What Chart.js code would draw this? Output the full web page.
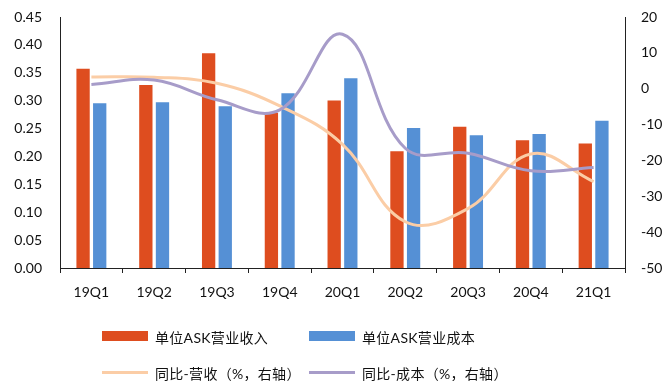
<!DOCTYPE html>
<html>
<head>
<meta charset="utf-8">
<script src="https://cdn.jsdelivr.net/npm/chart.js@4/dist/chart.umd.min.js"></script>
<style>
  body { margin: 0; background: #fff; }
  #wrap { position: relative; width: 665px; height: 381px; }
  .lg { position: absolute; font: 14px Lato, "Noto Sans CJK SC", sans-serif; color: #111; white-space: nowrap; }
  .lg span.sw { position: absolute; left: 0; }
  .lg span.tx { position: absolute; top: -9px; letter-spacing: 0.3px; }
</style>
</head>
<body>
<div id="wrap">
  <canvas id="ask-chart" width="665" height="381"></canvas>
  <div id="legend"></div>
</div>
<script>
/*ASK 单位营收 / 成本*/
const quarters = ['19Q1', '19Q2', '19Q3', '19Q4', '20Q1', '20Q2', '20Q3', '20Q4', '21Q1'];
const revPerAsk = [0.359, 0.330, 0.387, 0.280, 0.302, 0.211, 0.255, 0.231, 0.225];
const costPerAsk = [0.297, 0.299, 0.292, 0.315, 0.342, 0.253, 0.240, 0.242, 0.266];
const revYoy = [3.3, 3.2, 1.5, -4.8, -15.5, -37.1, -33.4, -18.2, -25.9];
const costYoy = [1.2, 2.4, -3.1, -5.9, 15.2, -16.6, -18.0, -22.9, -22.0];
const leftTicks = [0, 0.05, 0.10, 0.15, 0.20, 0.25, 0.30, 0.35, 0.40, 0.45];
const rightTicks = [-50, -40, -30, -20, -10, 0, 10, 20];

const tickFont = { family: 'Lato', size: 14 };

const ctx_ask = document.getElementById('ask-chart').getContext('2d');
const askChart = new Chart(ctx_ask, {
    type: 'bar',
    data: {
        labels: quarters,
        datasets: [{
            type: 'line',
            label: '同比-成本（%，右轴）',
            data: costYoy,
            yAxisID: 'y1',
            borderColor: '#A79CC9',
            borderWidth: 3,
            pointRadius: 0,
            tension: 0.4,
            order: 0
        }, {
            type: 'line',
            label: '同比-营收（%，右轴）',
            data: revYoy,
            yAxisID: 'y1',
            borderColor: '#FBCDA6',
            borderWidth: 3,
            pointRadius: 0,
            tension: 0.4,
            order: 1
        }, {
            label: '单位ASK营业收入',
            data: revPerAsk,
            backgroundColor: '#DE4D1F',
            borderColor: '#fff',
            borderWidth: 1,
            categoryPercentage: 0.53,
            barPercentage: 0.92,
            order: 2
        }, {
            label: '单位ASK营业成本',
            data: costPerAsk,
            backgroundColor: '#5590D5',
            borderColor: '#fff',
            borderWidth: 1,
            categoryPercentage: 0.53,
            barPercentage: 0.92,
            order: 2
        }]
    },
    options: {
        responsive: false,
        animation: false,
        layout: { padding: { top: 17, bottom: 0, left: 0, right: 0 } },
        plugins: { legend: { display: false }, tooltip: { enabled: false } },
        scales: {
            x: {
                border: { color: '#222', width: 1 },
                grid: { drawOnChartArea: false, tickLength: 5, color: '#222' },
                ticks: { color: '#111', font: tickFont, padding: 11, maxRotation: 0 },
                afterFit: function(scale) { scale.height = 113; scale.paddingLeft = 0; scale.paddingRight = 0; }
            },
            y: {
                position: 'left',
                min: 0,
                max: 0.45,
                afterBuildTicks: function(scale) { scale.ticks = leftTicks.map(v => ({ value: v })); },
                border: { color: '#222', width: 1 },
                grid: { display: false, drawTicks: false },
                ticks: { color: '#111', font: tickFont, padding: 18, callback: v => v.toFixed(2) },
                afterFit: function(scale) { scale.width = 60; scale.paddingTop = 0; scale.paddingBottom = 0; }
            },
            y1: {
                position: 'right',
                min: -50,
                max: 20,
                afterBuildTicks: function(scale) { scale.ticks = rightTicks.map(v => ({ value: v })); },
                border: { color: '#222', width: 1 },
                grid: { display: false, drawTicks: false },
                ticks: { color: '#111', font: tickFont, padding: 16 },
                afterFit: function(scale) { scale.width = 40; scale.paddingTop = 0; scale.paddingBottom = 0; }
            }
        }
    }
});

/*legend built from the datasets*/
const legendItems = [
    { ds: 2, x: 102, y: 336, bar: true },
    { ds: 3, x: 309, y: 336, bar: true },
    { ds: 1, x: 102, y: 372, bar: false },
    { ds: 0, x: 309, y: 372, bar: false }
];
const legendBox = document.getElementById('legend');
legendItems.forEach(function(item) {
    const ds = askChart.data.datasets[item.ds];
    const el = document.createElement('div');
    el.className = 'lg';
    el.style.left = item.x + 'px';
    el.style.top = item.y + 'px';
    const sw = document.createElement('span');
    sw.className = 'sw';
    sw.style.width = '46px';
    if (item.bar) {
        sw.style.height = '10px';
        sw.style.top = '-5px';
        sw.style.background = ds.backgroundColor;
    } else {
        sw.style.height = '3px';
        sw.style.top = '-1px';
        sw.style.background = ds.borderColor;
    }
    const tx = document.createElement('span');
    tx.className = 'tx';
    tx.style.left = '53px';
    tx.textContent = ds.label;
    el.appendChild(sw);
    el.appendChild(tx);
    legendBox.appendChild(el);
});
</script>
</body>
</html>
